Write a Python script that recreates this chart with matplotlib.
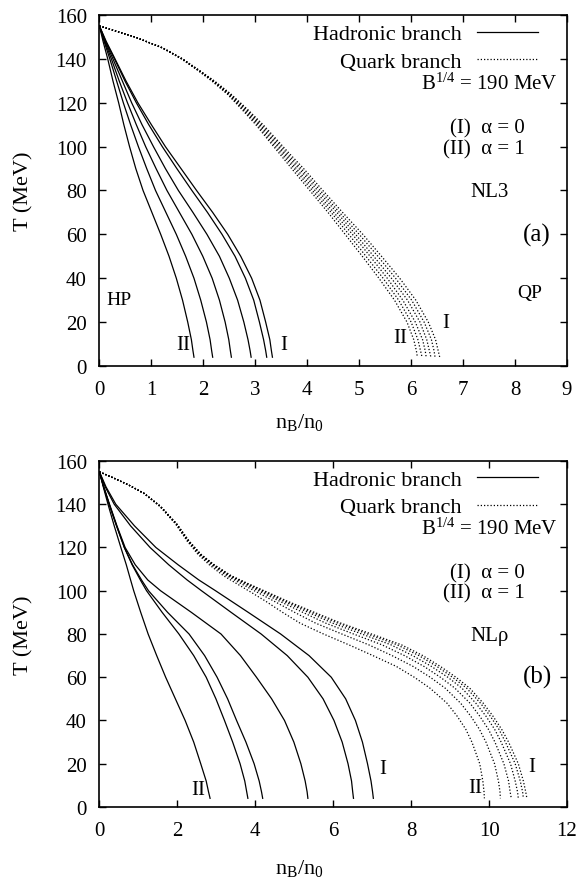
import numpy as np
import matplotlib
matplotlib.use("Agg")
import matplotlib.pyplot as plt

plt.rcParams['font.family'] = 'Liberation Serif'
plt.rcParams['mathtext.fontset'] = 'custom'
plt.rcParams['mathtext.rm'] = 'Liberation Serif'
plt.rcParams['mathtext.it'] = 'Liberation Serif:italic'
plt.rcParams['mathtext.default'] = 'regular'

# ---- panel (a): NL3 ----
T_had_a = [155, 148, 140, 130, 120, 110, 100, 90, 80, 70, 60, 50, 40, 30, 20, 12, 7, 4]
had_a = [
    [0, .07, .16, .26, .37, .47, .58, .70, .84, 1.01, 1.18, 1.34, 1.48, 1.60, 1.70, 1.77, 1.80, 1.82],
    [0, .09, .20, .33, .46, .60, .75, .91, 1.08, 1.28, 1.48, 1.66, 1.82, 1.95, 2.06, 2.13, 2.16, 2.18],
    [0, .10, .23, .38, .54, .71, .89, 1.09, 1.30, 1.54, 1.78, 1.99, 2.17, 2.31, 2.42, 2.49, 2.52, 2.54],
    [0, .11, .26, .44, .62, .82, 1.04, 1.27, 1.52, 1.80, 2.07, 2.31, 2.50, 2.66, 2.78, 2.86, 2.90, 2.92],
    [0, .12, .29, .49, .71, .95, 1.21, 1.49, 1.78, 2.08, 2.36, 2.61, 2.81, 2.97, 3.08, 3.16, 3.20, 3.22],
    [0, .13, .30, .51, .74, 1.00, 1.27, 1.57, 1.87, 2.18, 2.47, 2.72, 2.93, 3.09, 3.20, 3.28, 3.31, 3.33],
]
T_qrk_a = [155, 150, 145, 140, 135, 130, 124, 117, 110, 103, 97, 90, 80, 70, 60, 50, 40, 30, 20, 12, 7, 4]
qrk_a = [
    [0, .68, 1.21, 1.58, 1.88, 2.16, 2.46, 2.74, 3.01, 3.25, 3.46, 3.70, 4.05, 4.40, 4.73, 5.06, 5.38, 5.68, 5.92, 6.05, 6.10, 6.12],
    [0, .68, 1.21, 1.58, 1.89, 2.17, 2.47, 2.76, 3.04, 3.28, 3.50, 3.75, 4.10, 4.46, 4.80, 5.13, 5.46, 5.76, 6.00, 6.13, 6.18, 6.21],
    [0, .68, 1.21, 1.59, 1.89, 2.18, 2.49, 2.78, 3.07, 3.32, 3.54, 3.79, 4.15, 4.51, 4.87, 5.21, 5.54, 5.84, 6.08, 6.22, 6.27, 6.29],
    [0, .68, 1.22, 1.59, 1.90, 2.19, 2.50, 2.81, 3.09, 3.35, 3.57, 3.84, 4.20, 4.57, 4.93, 5.28, 5.62, 5.93, 6.17, 6.30, 6.35, 6.38],
    [0, .68, 1.22, 1.60, 1.90, 2.20, 2.52, 2.83, 3.12, 3.39, 3.61, 3.88, 4.25, 4.62, 5.00, 5.36, 5.70, 6.01, 6.25, 6.39, 6.44, 6.46],
    [0, .68, 1.22, 1.60, 1.91, 2.21, 2.53, 2.85, 3.15, 3.42, 3.65, 3.93, 4.30, 4.68, 5.07, 5.43, 5.78, 6.09, 6.33, 6.47, 6.52, 6.55],
]

# ---- panel (b): NLrho ----
T_had_b = [155, 148, 140, 130, 120, 112, 105, 100, 90, 80, 70, 60, 50, 40, 30, 20, 12, 7, 4]
had_b = [
    [0, .10, .22, .38, .55, .69, .80, .88, 1.06, 1.25, 1.47, 1.70, 1.95, 2.20, 2.42, 2.60, 2.74, 2.80, 2.84],
    [0, .11, .25, .44, .64, .84, 1.05, 1.21, 1.61, 2.04, 2.42, 2.74, 2.99, 3.21, 3.42, 3.61, 3.73, 3.78, 3.81],
    [0, .11, .25, .44, .64, .85, 1.08, 1.26, 1.75, 2.30, 2.70, 3.02, 3.29, 3.52, 3.76, 3.97, 4.10, 4.16, 4.19],
    [0, .11, .26, .45, .66, .92, 1.24, 1.57, 2.36, 3.12, 3.62, 4.03, 4.42, 4.75, 4.99, 5.17, 5.28, 5.33, 5.35],
    [0, .15, .38, .80, 1.30, 1.78, 2.25, 2.62, 3.38, 4.15, 4.82, 5.35, 5.74, 6.02, 6.23, 6.38, 6.47, 6.50, 6.52],
    [0, .17, .42, .90, 1.45, 2.02, 2.55, 2.98, 3.82, 4.65, 5.38, 5.95, 6.32, 6.57, 6.75, 6.88, 6.97, 7.01, 7.03],
]
T_qrk_b = [155, 152, 149, 145, 139, 131, 123, 117, 112, 107, 103, 99, 95, 90, 85, 80, 75, 70,
           65, 60, 55, 48, 42, 36, 30, 20, 12, 7, 4]
qrk_b = [
    [0, .38, .74, 1.14, 1.55, 1.95, 2.25, 2.52, 2.82, 3.18, 3.55, 3.92, 4.28, 4.70, 5.15, 5.75, 6.40, 7.02,
     7.62, 8.08, 8.48, 8.92, 9.18, 9.40, 9.56, 9.76, 9.84, 9.87, 9.88],
    [0, .38, .74, 1.14, 1.56, 1.96, 2.27, 2.55, 2.87, 3.26, 3.66, 4.08, 4.50, 5.01, 5.55, 6.22, 6.91, 7.51,
     8.05, 8.49, 8.87, 9.27, 9.53, 9.75, 9.92, 10.14, 10.24, 10.28, 10.29],
    [0, .38, .74, 1.15, 1.56, 1.97, 2.28, 2.57, 2.90, 3.31, 3.74, 4.19, 4.64, 5.22, 5.81, 6.52, 7.25, 7.83,
     8.33, 8.75, 9.12, 9.51, 9.76, 9.98, 10.15, 10.38, 10.50, 10.54, 10.57],
    [0, .38, .74, 1.15, 1.57, 1.97, 2.29, 2.58, 2.92, 3.34, 3.79, 4.26, 4.74, 5.36, 5.99, 6.73, 7.48, 8.04,
     8.52, 8.94, 9.30, 9.66, 9.92, 10.14, 10.31, 10.55, 10.67, 10.73, 10.75],
    [0, .38, .74, 1.15, 1.57, 1.98, 2.30, 2.59, 2.94, 3.36, 3.83, 4.32, 4.80, 5.45, 6.12, 6.88, 7.64, 8.20,
     8.66, 9.06, 9.42, 9.78, 10.03, 10.25, 10.42, 10.67, 10.80, 10.86, 10.88],
    [0, .38, .74, 1.15, 1.57, 1.98, 2.30, 2.60, 2.95, 3.38, 3.85, 4.35, 4.85, 5.52, 6.20, 6.98, 7.75, 8.30,
     8.75, 9.15, 9.50, 9.85, 10.10, 10.32, 10.50, 10.75, 10.88, 10.94, 10.97],
]

lw = 0.9
dots = (0, (1.0, 1.6))

fig = plt.figure(figsize=(5.78, 8.79), dpi=100)
ax_a = fig.add_axes([0.172, 0.5825, 0.809, 0.3993])
ax_b = fig.add_axes([0.172, 0.0808, 0.809, 0.3936])


def draw_panel(ax, T_h, had, T_q, qrk, xmax, xstep, name, tag):
    for i, n in enumerate(had):
        ax.plot(n, T_h, color='black', lw=lw,
                label='Hadronic branch' if i == 0 else None)
    for i, n in enumerate(qrk):
        ax.plot(n, T_q, color='black', lw=lw, linestyle=dots,
                label='Quark branch' if i == 0 else None)

    ax.set_xlim(0, xmax)
    ax.set_ylim(0, 160)
    ax.set_xticks(np.arange(0, xmax + 0.1, xstep))
    ax.set_yticks(np.arange(0, 161, 20))
    ax.tick_params(direction='in', length=5, width=1, top=True, right=True,
                   labelsize=15)
    ax.tick_params(axis='x', pad=10)
    ax.tick_params(axis='y', pad=9)
    for s in ax.spines.values():
        s.set_linewidth(1.2)

    ax.set_ylabel('T (MeV)', fontsize=16, labelpad=16)
    ax.set_xlabel('n$_\\mathrm{B}$/n$_0$', fontsize=16)

    ax.legend(loc='upper right', bbox_to_anchor=(0.938, 0.975),
              frameon=False, markerfirst=False,
              fontsize=16, handlelength=2.75, handletextpad=0.68,
              labelspacing=0.3, borderaxespad=0, borderpad=0)

    kw = dict(transform=ax.transAxes, fontsize=15)
    ax.text(0.979, 0.806, 'B$^{1/4}$ = 190 MeV', ha='right', va='center', **kw)
    ax.text(0.910, 0.678, '(I)  \u03b1 = 0', ha='right', va='center', **kw)
    ax.text(0.910, 0.618, '(II)  \u03b1 = 1', ha='right', va='center', **kw)
    ax.text(0.835, 0.496, name, ha='center', va='center', **kw)
    ax.text(0.936, 0.376, tag, ha='center', va='center',
            transform=ax.transAxes, fontsize=18)


draw_panel(ax_a, T_had_a, had_a, T_qrk_a, qrk_a, 9, 1, 'NL3', '(a)')
draw_panel(ax_b, T_had_b, had_b, T_qrk_b, qrk_b, 12, 2, 'NL\u03c1', '(b)')

ax_a.xaxis.set_label_coords(0.427, -0.128)
ax_b.xaxis.set_label_coords(0.427, -0.145)

# phase labels and curve markers
ax_a.text(0.042, 0.188, 'HP', transform=ax_a.transAxes, fontsize=14,
          ha='center', va='center')
ax_a.text(0.921, 0.208, 'QP', transform=ax_a.transAxes, fontsize=14,
          ha='center', va='center')
ax_a.text(1.61, 10, 'II', fontsize=15, ha='center', va='center')
ax_a.text(3.54, 10, 'I', fontsize=15, ha='center', va='center')
ax_a.text(5.79, 12.8, 'II', fontsize=15, ha='center', va='center')
ax_a.text(6.66, 20, 'I', fontsize=15, ha='center', va='center')

ax_b.text(2.53, 8.3, 'II', fontsize=15, ha='center', va='center')
ax_b.text(7.27, 17.6, 'I', fontsize=15, ha='center', va='center')
ax_b.text(9.65, 9.2, 'II', fontsize=15, ha='center', va='center')
ax_b.text(11.09, 18.5, 'I', fontsize=15, ha='center', va='center')

fig.savefig('out.png', dpi=100)
